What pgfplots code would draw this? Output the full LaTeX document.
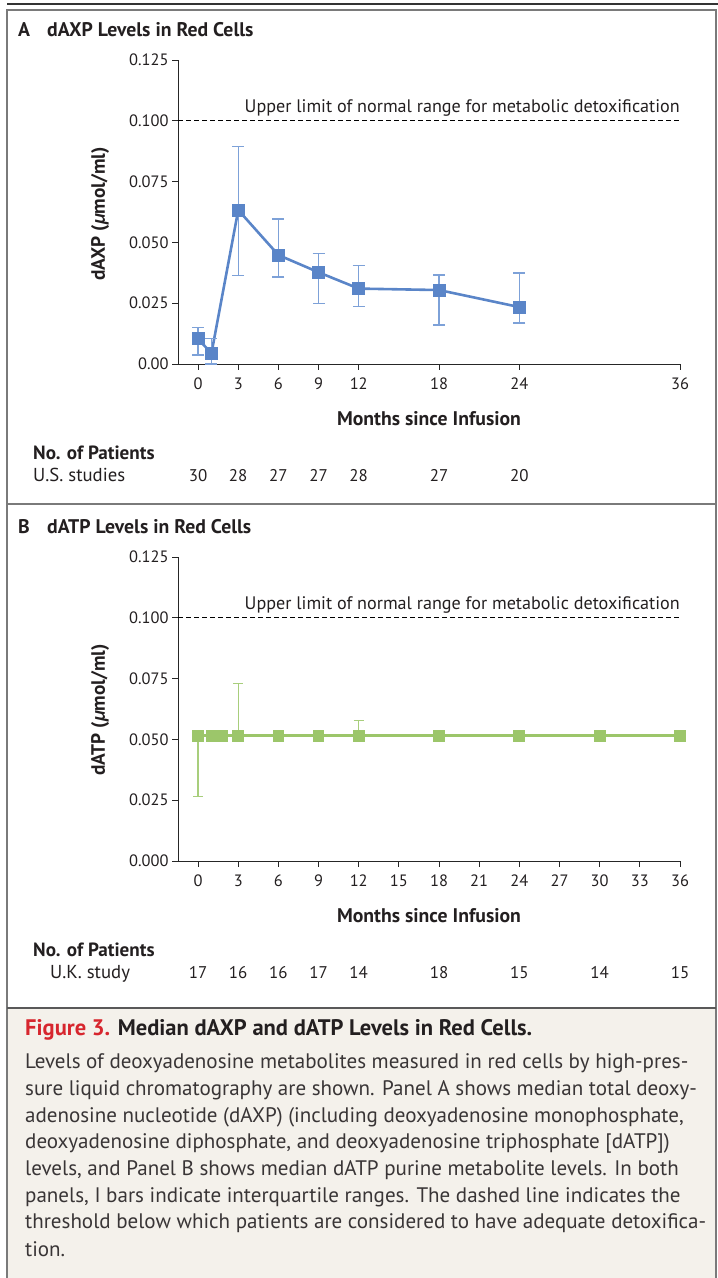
\documentclass[border=0pt]{standalone}
\usepackage{fontspec}
\setmainfont{PT Sans}
\usepackage{pgfplots}
\pgfplotsset{compat=1.18}
\definecolor{bl}{HTML}{5A85C8}
\definecolor{blE}{HTML}{7DA1D8}
\definecolor{gr}{HTML}{9CC66A}
\definecolor{grE}{HTML}{A8CE7C}
\definecolor{framec}{HTML}{7A7A7A}
\definecolor{capbg}{HTML}{F4F1EB}
\definecolor{txt}{HTML}{231F20}
\definecolor{nejmred}{HTML}{D7262E}
\newcommand{\fs}[1]{\fontsize{#1}{#1}\selectfont}
\pgfplotsset{myax/.style={
  scale only axis, width=502bp, height=304bp,
  xmin=-1.5, xmax=36, ymin=0, ymax=0.125,
  axis x line*=bottom, axis y line*=left,
  axis line style={black!85, line width=0.9bp},
  tick style={black!85, line width=0.9bp},
  major tick length=6bp, tick align=outside,
  ytick={0,0.025,0.05,0.075,0.1,0.125},
  clip=false, anchor=south west,
  xticklabel style={font=\fs{16.5}, text=txt, yshift=-4bp},
  yticklabel style={font=\fs{16.5}, text=txt},
}}
\begin{document}
\begin{tikzpicture}
\useasboundingbox (0bp,0bp) rectangle (718bp,1278bp);
\fill[capbg] (7bp,0bp) rectangle (716bp,270bp);
\draw[framec, line width=2bp] (7bp,0bp) -- (7bp,1268bp) -- (716bp,1268bp) -- (716bp,0bp);
\draw[framec, line width=2bp] (7bp,774bp) -- (716bp,774bp);
\draw[black!65, line width=2.5bp] (7bp,270bp) -- (716bp,270bp);
\draw[black!80, line width=1.2bp] (7bp,1274bp) -- (718bp,1274bp);

% Panel A titles and labels
\node[anchor=base west, inner sep=0pt, text=txt, font=\bfseries\fs{19.8}] at (18bp,1241bp) {A};
\node[anchor=base west, inner sep=0pt, text=txt, font=\bfseries\fs{19.8}] at (47bp,1241bp) {dAXP Levels in Red Cells};
\node[rotate=90, text=txt, font=\bfseries\fs{19.4}] at (100bp,1064bp) {dAXP (\textit{µ}mol/ml)};
\node[anchor=base, inner sep=0pt, text=txt, font=\bfseries\fs{19.8}] at (429bp,852bp) {Months since Infusion};
\node[anchor=base west, inner sep=0pt, text=txt, font=\bfseries\fs{19.2}] at (33bp,818bp) {No. of Patients};
\node[anchor=base west, inner sep=0pt, text=txt, font=\fs{18.8}] at (33bp,796bp) {U.S. studies};
\foreach \xx/\nn in {198/30,238.2/28,278.3/27,318.5/27,358.7/28,439/27,519.4/20}
  \node[anchor=base, inner sep=0pt, text=txt, font=\fs{17}] at (\xx bp,796bp) {\nn};

% Panel B titles and labels
\node[anchor=base west, inner sep=0pt, text=txt, font=\bfseries\fs{19.8}] at (18bp,744bp) {B};
\node[anchor=base west, inner sep=0pt, text=txt, font=\bfseries\fs{19.8}] at (47bp,744bp) {dATP Levels in Red Cells};
\node[rotate=90, text=txt, font=\bfseries\fs{19.4}] at (100bp,568bp) {dATP (\textit{µ}mol/ml)};
\node[anchor=base, inner sep=0pt, text=txt, font=\bfseries\fs{19.8}] at (429bp,355bp) {Months since Infusion};
\node[anchor=base west, inner sep=0pt, text=txt, font=\bfseries\fs{19.2}] at (33bp,321bp) {No. of Patients};
\node[anchor=base west, inner sep=0pt, text=txt, font=\fs{18.8}] at (50bp,299bp) {U.K. study};
\foreach \xx/\nn in {198/17,238.2/16,278.3/16,318.5/17,358.7/14,439/18,519.4/15,599.7/14,680/15}
  \node[anchor=base, inner sep=0pt, text=txt, font=\fs{17}] at (\xx bp,299bp) {\nn};

% Caption
\node[anchor=base west, inner sep=0pt, font=\bfseries\fs{22.6}] at (25bp,242bp) {\textcolor{nejmred}{Figure 3.} \textcolor{txt}{Median dAXP and dATP Levels in Red Cells.}};
\foreach \yy/\ln in {
  209/{Levels of deoxyadenosine metabolites measured in red cells by high-pres-},
  182/{sure liquid chromatography are shown. Panel A shows median total deoxy-},
  155/{adenosine nucleotide (dAXP) (including deoxyadenosine monophosphate,},
  129/{deoxyadenosine diphosphate, and deoxyadenosine triphosphate [dATP])},
  102/{levels, and Panel B shows median dATP purine metabolite levels. In both},
  75/{panels, I bars indicate interquartile ranges. The dashed line indicates the},
  49/{threshold below which patients are considered to have adequate detoxifica-},
  22/{tion.}}
  \node[anchor=base west, inner sep=0pt, text=txt!90, font=\fs{21.1}] at (25bp,\yy bp) {\ln};

% Panel A axis
\begin{axis}[myax, at={(178bp,914bp)},
  xtick={0,3,6,9,12,18,24,36}, xticklabels={0,3,6,9,12,18,24,36},
  yticklabels={0.00,0.025,0.050,0.075,0.100,0.125}]
\addplot[black, line width=0.9bp, dash pattern=on 5bp off 3bp] coordinates {(-1.5,0.1) (36,0.1)};
\node[anchor=base east, inner sep=0pt, text=txt, font=\fs{18.2}, yshift=8.5bp] at (axis cs:36,0.1) {Upper limit of normal range for metabolic detoxification};
\addplot[bl, line width=2.6bp, mark=square*, mark size=6bp,
  mark options={solid, fill=bl, draw=bl, line width=0pt},
  error bars/.cd, y dir=both, y explicit,
  error bar style={blE, line width=1.4bp},
  error mark options={rotate=90, blE, line width=1.4bp, mark size=6bp}]
coordinates {
(0,0.0103) += (0,0.0048) -= (0,0.0066)
(1,0.0044) += (0,0.0060) -= (0,0.0044)
(3,0.0633) += (0,0.0261) -= (0,0.0268)
(6,0.0448) += (0,0.0148) -= (0,0.0090)
(9,0.0377) += (0,0.0078) -= (0,0.0128)
(12,0.0310) += (0,0.0094) -= (0,0.0074)
(18,0.0304) += (0,0.0062) -= (0,0.0144)
(24,0.0234) += (0,0.0140) -= (0,0.0065)
};
\end{axis}

% Panel B axis
\begin{axis}[myax, at={(178bp,417bp)},
  xtick={0,3,...,36}, xticklabels={0,3,6,9,12,15,18,21,24,27,30,33,36},
  yticklabels={0.000,0.025,0.050,0.075,0.100,0.125}]
\addplot[black, line width=0.9bp, dash pattern=on 5bp off 3bp] coordinates {(-1.5,0.1) (36,0.1)};
\node[anchor=base east, inner sep=0pt, text=txt, font=\fs{18.2}, yshift=8.5bp] at (axis cs:36,0.1) {Upper limit of normal range for metabolic detoxification};
\addplot[gr, line width=2.6bp, mark=square*, mark size=5.4bp,
  mark options={solid, fill=gr, draw=gr, line width=0pt},
  error bars/.cd, y dir=both, y explicit,
  error bar style={grE, line width=1.3bp},
  error mark options={rotate=90, grE, line width=1.3bp, mark size=5bp}]
coordinates {
(0,0.0515) += (0,0) -= (0,0.0251)
(1.0,0.0515)
(1.4,0.0515)
(1.8,0.0515)
(3,0.0515) += (0,0.0215) -= (0,0)
(6,0.0515)
(9,0.0515)
(12,0.0515) += (0,0.0063) -= (0,0)
(18,0.0515)
(24,0.0515)
(30,0.0515)
(36,0.0515)
};
\end{axis}
\end{tikzpicture}
\end{document}
